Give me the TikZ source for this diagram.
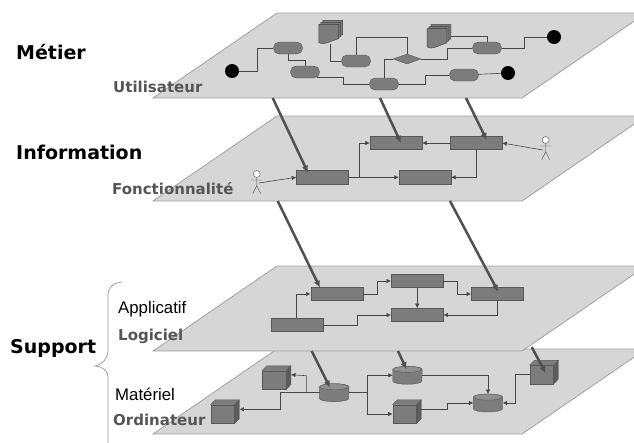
\documentclass[tikz,border=0pt]{standalone}
\usepackage{fontspec}
\setmainfont{DejaVu Sans}
\newfontfamily\arialfont{Liberation Sans}
\usetikzlibrary{positioning,shapes.geometric,arrows.meta}
\definecolor{planeclr}{RGB}{214,214,214}
\definecolor{edgeclr}{RGB}{160,160,160}
\definecolor{boxclr}{RGB}{124,124,124}
\definecolor{boxedge}{RGB}{88,88,88}
\definecolor{sideclr}{RGB}{92,92,92}
\definecolor{linkclr}{RGB}{70,70,70}
\definecolor{mapclr}{RGB}{80,80,80}
\definecolor{subclr}{RGB}{85,85,85}
\definecolor{braceclr}{RGB}{150,150,150}
\tikzset{ %
  ,>={Latex[length=4.5pt,width=4.5pt]}
  ,every node/.style={inner sep=0, on grid}
  ,plane/.style={draw=edgeclr, line width=0.8pt, fill=planeclr}
  ,link/.style={draw=linkclr, line width=0.6pt}
  ,map/.style={-{Latex[length=7pt,width=6.5pt]}, draw=mapclr, line width=2.5pt}
  ,title/.style={anchor=base west, font=\bfseries\fontsize{19}{20}\selectfont, text=black}
  ,sublayer/.style={anchor=base west, font=\bfseries\fontsize{15}{17}\selectfont, text=subclr}
  ,note/.style={anchor=base west, font=\arialfont\fontsize{16.8}{18}\selectfont, text=black}
  ,pill/.style={draw=boxedge, fill=boxclr, rectangle, rounded corners=5.5pt, minimum width=29pt, minimum height=12pt}
  ,dot/.style={fill=black, circle, minimum size=14pt}
  ,gate/.style={draw=boxedge, fill=boxclr, diamond, aspect=2.8, minimum width=28pt, minimum height=10pt}
  ,doc/.style={minimum width=19.3pt, minimum height=19pt}
  ,func/.style={draw=boxedge, fill=boxclr, rectangle, minimum width=52pt, minimum height=13.3pt}
  ,actor/.style={draw=black!70, fill=white, circle, line width=0.4pt, minimum size=7pt}
  ,cube/.style={draw=boxedge, fill=boxclr, rectangle, minimum width=23.7pt, minimum height=18.6pt}
  ,face/.style={draw=boxedge, fill=sideclr, line width=0.4pt}
  ,drum/.style={rectangle, minimum width=29pt, minimum height=17.5pt}
}
\begin{document}
\begin{tikzpicture}[x=1pt,y=-1pt]
  \useasboundingbox (0,0) rectangle (634,442);
  \clip (0,0) rectangle (634,442);
  \foreach \t in {13,116,349,266}
    \draw[plane] (277,\t) -- (646,\t) -- (522,\t+85) -- (153,\t+85) -- cycle;

  % metier
  \draw
  node[pill] (pA) at (288,48) {}
  node[pill, below right=24pt and 17pt of pA] (pB) {}
  node[pill, above right=11pt and 51pt of pB] (pC) {}
  node[pill, below right=23pt and 28pt of pC] (pD) {}
  node[pill, above right=9pt and 80pt of pD] (pE) {}
  node[pill, above right=27pt and 23pt of pE] (pF) {}
  node[gate, above right=25pt and 23pt of pD] (gt) {}
  node[dot, below left=23pt and 56pt of pA] (dA) {}
  node[dot, above right=2pt and 44pt of pE] (dB) {}
  node[dot, above right=11pt and 67pt of pF] (dC) {}
  node[doc] (docA) at (328.7,34) {}
  node[doc] (docB) at (437,38.3) {};
  \foreach \d in {docA,docB}
    \foreach \s in {4,2,0}
      \draw[face, fill=boxclr, draw=boxedge!70!black] ([shift={(\s,-\s)}]\d.north west) -- ([shift={(\s,-\s)}]\d.north east) -- ([shift={(\s,-\s-5)}]\d.south east) .. controls ([shift={(\s,-\s-2)}]\d.south) and ([shift={(\s+5,-\s+2)}]\d.south west) .. ([shift={(\s,-\s-1)}]\d.south west) -- cycle;
  \draw[link] (dA.east) -- ++(17.7,0) |- (pA.west);
  \draw[link] (pA.south) -- ++(0,6) -| (pB.north);
  \draw[link] ([shift={(12,5.6)}]pB.center) -- ++(26,0) |- (pD.west);
  \draw[link] ([xshift=2pt]docA.south) |- (pC.west);
  \draw[link] (pC.north) -- ++(0,-17.7) -| (gt.north);
  \draw[link] (pD.north) |- (gt.west);
  \draw[link] (gt.east) -- ++(26.3,0) |- (pF.west);
  \draw[link] ([shift={(4,-2.3)}]docB.east) -| (pF.north);
  \draw[link] (pF.east) -- ++(22.5,0) |- (dC.west);
  \draw[link] (pD.east) -- ++(26.5,0) |- (pE.west);
  \draw[link] (pE) -- (dB);

  % information
  \draw
  node[func] (fA) at (322.5,177.3) {}
  node[func, above right=34.3pt and 73.5pt of fA] (fB) {}
  node[func, right=80pt of fB] (fC) {}
  node[func, right=102.5pt of fA] (fD) {}
  node[actor] (aL) at (256.7,174) {}
  node[actor] (aR) at (545.7,140) {};
  \foreach \a in {aL,aR}
    \draw[black!70, line width=0.4pt] (\a.south) -- ++(0,8) -- ++(-4,8) ++(4,-8) -- ++(4,8) ([shift={(-5.5,6)}]\a.center) -- ++(11,0);
  \draw[->, link] ([shift={(2,9)}]aL.center) -- (fA.west);
  \draw[->, link] (fA.east) -- (fD.west);
  \draw[->, link] ([xshift=10.5pt]fA.east) |- (fB.west);
  \draw[->, link] (fC.west) -- (fB.east);
  \draw[->, link] (fC.south) |- (fD.east);
  \draw[->, link] ([shift={(-3,10)}]aR.center) -- (fC.east);

  % logiciel
  \draw
  node[func] (aA) at (336.7,294) {}
  node[func, above right=13pt and 80.5pt of aA] (aB) {}
  node[func, below right=13pt and 80pt of aB] (aC) {}
  node[func, below=34pt of aB] (aD) {}
  node[func, below left=31pt and 40pt of aA] (aE) {};
  \draw[->, link] (aE.north) |- (aA.west);
  \draw[->, link] (aE.east) -- ++(34,0) |- (aD.west);
  \draw[->, link] (aA.east) -- ++(14,0) |- (aB.west);
  \draw[->, link] (aB.east) -- ++(14,0) |- (aC.west);
  \draw[->, link] (aB.south) -- (aD.north);
  \draw[->, link] (aC.south) |- (aD.east);

  % ordinateur
  \draw
  node[drum] (cyA) at (334.3,392.7) {}
  node[drum, above right=17.4pt and 73.2pt of cyA] (cyB) {}
  node[drum, below right=27.7pt and 80.5pt of cyB] (cyC) {}
  node[cube] (cuA) at (274.2,380) {}
  node[cube] (cuB) at (222.7,414) {}
  node[cube] (cuC) at (404.7,414) {}
  node[cube] (cuD) at (541.7,374.5) {};
  \foreach \c in {cyA,cyB,cyC} {
    \draw[face, fill=boxclr] ([yshift=-3]\c.north west) -- ([yshift=3]\c.south west) arc[start angle=180, end angle=360, x radius=14.5pt, y radius=3pt] -- ([yshift=-3]\c.north east) arc[start angle=0, end angle=180, x radius=14.5pt, y radius=3pt] -- cycle;
    \draw[face, fill=boxclr!85!white] ([yshift=-3]\c.north west) arc[start angle=180, end angle=360, x radius=14.5pt, y radius=3pt] arc[start angle=0, end angle=180, x radius=14.5pt, y radius=3pt] -- cycle;
  }
  \foreach \c in {cuA,cuB,cuC,cuD} {
    \draw[face] (\c.north east) -- ++(4.7,-4.7) -- ++(0,18.6) -- (\c.south east) -- cycle;
    \draw[face, fill=boxclr] (\c.north west) -- ++(4.7,-4.7) -- ++(23.7,0) -- (\c.north east) -- cycle;
  }
  \draw[link] (cyA.west) -- ++(-13.3,0) coordinate (cj);
  \draw[->, link] (cj) -- ++(0,-17) -- ([shift={(4.7,-5.3)}]cuA.east);
  \draw[->, link] (cj) -- ++(-26.4,0) |- ([shift={(4.7,-4.7)}]cuB.east);
  \draw[link] (cyA.east) -- ++(18.6,0) coordinate (ck);
  \draw[->, link] (ck) |- (cyB.west);
  \draw[->, link] (ck) |- (cuC.west);
  \draw[->, link] (cyB.east) -| (cyC.north);
  \draw[->, link] ([shift={(4.7,-4.7)}]cuC.east) -- ++(25.9,0) |- (cyC.west);
  \draw[->, link] (cuD.west) -- ++(-14,0) |- (cyC.east);

  % mappings between the layers
  \coordinate (mA) at (272.7,98);
  \coordinate (mB) at (380,98);
  \coordinate (mC) at (466,98);
  \coordinate (mD) at (277.7,201);
  \coordinate (mE) at (450,201);
  \coordinate (mF) at (311.7,351);
  \coordinate (mG) at (398,351);
  \coordinate (mH) at (531.7,347);
  \draw[map] (mA) -- ([shift={(-14.5,-4.6)}]fA.center);
  \draw[map] (mB) -- ([shift={(5,0)}]fB.center);
  \draw[map] (mC) -- ([shift={(10.7,-3)}]fC.center);
  \draw[map] (mD) -- ([shift={(-16.7,-6.3)}]aA.center);
  \draw[map] (mE) -- ([shift={(1,-2.3)}]aC.center);
  \draw[map] (mF) -- ([shift={(-4.3,-5)}]cyA.center);
  \draw[map] (mG) -- ([shift={(-1,-6)}]cyB.center);
  \draw[map] (mH) -- ([shift={(4,-1.2)}]cuD.center);

  % labels
  \node[title] (tM) at (16,59) {Métier};
  \node[title] (tI) at (16,159) {Information};
  \node[title] (tS) at (10,353) {Support};
  \node[sublayer] (sU) at (113,92) {Utilisateur};
  \node[sublayer] (sF) at (112,194) {Fonctionnalité};
  \node[sublayer] (sL) at (118,340) {Logiciel};
  \node[sublayer] (sO) at (113,425.7) {Ordinateur};
  \node[note] (nA) at (118,313) {Applicatif};
  \node[note] (nM) at (115,400) {Matériel};
  \draw[braceclr, line width=0.7pt] (122,282) .. controls (113,283) and (108,287) .. (108,296) -- (108,350) .. controls (108,358) and (103,364) .. (95,366) .. controls (103,367) and (108,370) .. (108,378) -- (108,445);
\end{tikzpicture}
\end{document}
